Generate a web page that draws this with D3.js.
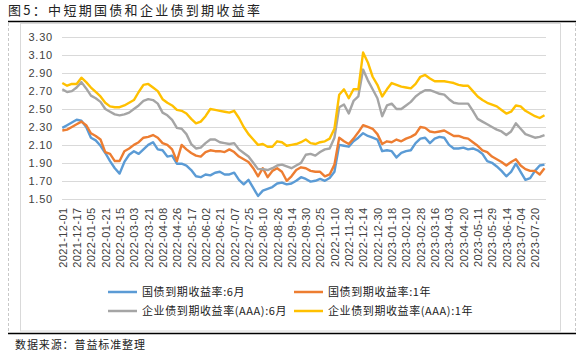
<!DOCTYPE html>
<html><head><meta charset="utf-8">
<script src="https://cdn.jsdelivr.net/npm/d3@7/dist/d3.min.js"></script>
<style>body{margin:0;background:#fff;}svg{display:block;}</style>
</head><body>
<svg id="c" width="583" height="354"></svg>
<script>
const title = "图5：中短期国债和企业债到期收益率";
const source = "数据来源：普益标准整理";
const tickLabels = ["2021-12-01","2021-12-17","2022-01-05","2022-01-21","2022-02-15","2022-03-03","2022-03-21","2022-04-08","2022-04-26","2022-05-17","2022-06-02","2022-06-21","2022-07-07","2022-07-25","2022-08-10","2022-08-26","2022-09-14","2022-09-30","2022-10-25","2022-11-10","2022-11-28","2022-12-14","2022-12-30","2023-01-18","2023-02-10","2023-02-28","2023-03-16","2023-04-03","2023-04-20","2023-05-11","2023-05-29","2023-06-14","2023-07-04","2023-07-20"];
const tickStep = 12;      // trading days between labels
const sampleStep = 4;     // trading days between samples
const totalDays = 405;
const yTicks = [1.5,1.7,1.9,2.1,2.3,2.5,2.7,2.9,3.1,3.3];
const seriesNames = ["国债到期收益率:6月","国债到期收益率:1年","企业债到期收益率(AAA):6月","企业债到期收益率(AAA):1年"];
const gov6m = [2.29,2.32,2.35,2.38,2.37,2.30,2.18,2.15,2.09,2.01,1.92,1.84,1.78,1.91,1.99,2.03,2.00,2.05,2.10,2.13,2.05,2.04,1.97,1.98,1.89,1.89,
1.87,1.82,1.75,1.74,1.77,1.76,1.79,1.80,1.77,1.77,1.79,1.71,1.66,1.71,1.62,1.53,1.59,1.61,1.63,1.67,1.68,1.66,1.67,1.70,1.74,
1.72,1.69,1.70,1.72,1.70,1.73,1.80,2.10,2.09,2.08,2.14,2.18,2.23,2.20,2.18,2.16,2.03,2.04,2.03,1.96,2.01,2.03,2.04,2.12,2.17,
2.18,2.12,2.17,2.19,2.18,2.10,2.06,2.06,2.07,2.05,2.06,2.04,2.00,1.92,1.90,1.86,1.81,1.75,1.80,1.89,1.80,1.71,1.73,1.81,1.87,1.88];
const gov1y = [2.26,2.27,2.30,2.33,2.36,2.32,2.23,2.20,2.16,2.02,2.00,1.92,1.92,2.03,2.06,2.10,2.13,2.18,2.19,2.21,2.18,2.12,2.10,2.05,1.92,2.10,
2.05,2.01,1.98,1.97,2.02,2.04,2.03,2.03,2.02,2.05,2.02,1.97,1.94,1.91,1.84,1.75,1.84,1.74,1.81,1.84,1.80,1.70,1.75,1.82,1.85,
1.84,1.81,1.80,1.80,1.75,1.77,1.88,2.18,2.14,2.11,2.17,2.24,2.32,2.30,2.28,2.22,2.11,2.14,2.13,2.16,2.14,2.17,2.19,2.22,2.30,
2.29,2.25,2.24,2.25,2.26,2.23,2.20,2.20,2.18,2.17,2.13,2.09,2.04,2.02,1.97,1.94,1.91,1.87,1.91,1.94,1.87,1.83,1.81,1.81,1.77,1.84];
const corp6m = [2.72,2.69,2.70,2.74,2.80,2.73,2.65,2.62,2.58,2.50,2.47,2.44,2.43,2.44,2.46,2.50,2.54,2.59,2.61,2.60,2.56,2.46,2.43,2.38,2.29,2.28,
2.22,2.11,2.06,2.07,2.12,2.16,2.16,2.13,2.12,2.11,2.12,2.05,2.01,1.97,1.90,1.83,1.83,1.82,1.84,1.87,1.88,1.86,1.84,1.87,1.90,
1.99,2.00,1.98,2.02,2.05,2.06,2.18,2.52,2.55,2.45,2.59,2.64,2.94,2.82,2.72,2.62,2.42,2.54,2.56,2.50,2.50,2.54,2.58,2.64,2.68,
2.71,2.71,2.69,2.67,2.66,2.61,2.57,2.56,2.56,2.56,2.48,2.39,2.36,2.33,2.30,2.27,2.25,2.21,2.25,2.34,2.28,2.22,2.20,2.18,2.19,2.21];
const corp1y = [2.79,2.76,2.78,2.78,2.85,2.80,2.74,2.69,2.64,2.57,2.53,2.52,2.52,2.54,2.57,2.60,2.69,2.77,2.78,2.74,2.70,2.61,2.57,2.54,2.49,2.48,
2.45,2.39,2.34,2.36,2.42,2.50,2.49,2.48,2.47,2.46,2.48,2.40,2.30,2.22,2.16,2.10,2.11,2.08,2.08,2.14,2.13,2.09,2.10,2.11,2.13,
2.16,2.12,2.11,2.13,2.14,2.17,2.28,2.66,2.72,2.62,2.72,2.72,3.13,3.02,2.86,2.77,2.64,2.72,2.79,2.77,2.75,2.74,2.73,2.78,2.86,
2.88,2.84,2.81,2.81,2.81,2.80,2.79,2.77,2.76,2.76,2.70,2.64,2.60,2.57,2.55,2.53,2.49,2.45,2.47,2.54,2.53,2.48,2.45,2.42,2.40,2.43];
const colors = ["#5B9BD5","#ED7D31","#A5A5A5","#FFC000"];
const allSeries = [gov6m, gov1y, corp6m, corp1y];

const svg = d3.select("#c");
const cjk = "'Noto Sans CJK SC', 'Liberation Sans', sans-serif";
const num = "'Liberation Sans', Arial, sans-serif";

// frame decorations
svg.append("line").attr("x1",8).attr("x2",576).attr("y1",21.5).attr("y2",21.5).attr("stroke","#000").attr("stroke-width",1.5);
svg.append("line").attr("x1",8).attr("x2",576).attr("y1",333.5).attr("y2",333.5).attr("stroke","#000").attr("stroke-width",1.5);
[8.5,575.5].forEach(x=>svg.append("line").attr("x1",x).attr("x2",x).attr("y1",23).attr("y2",333).attr("stroke","#c8c8c8").attr("stroke-dasharray","3,2"));
svg.append("rect").attr("x",20.5).attr("y",23.5).attr("width",540).attr("height",307.5).attr("fill","none").attr("stroke","#d9d9d9");

svg.append("text").attr("x",8).attr("y",15).attr("font-family",cjk).attr("font-size",13).attr("fill","#222").attr("letter-spacing",2.3).text(title);
svg.append("text").attr("x",15).attr("y",349).attr("font-family",cjk).attr("font-size",11).attr("fill","#222").attr("letter-spacing",0.9).text(source);

const x = d3.scaleLinear().domain([0,totalDays]).range([62.3,545.7]);
const y = d3.scaleLinear().domain([1.5,3.3]).range([198.7,37.3]);

// gridlines
svg.append("g").selectAll("line").data(yTicks).join("line")
  .attr("x1",62).attr("x2",546).attr("y1",d=>Math.round(y(d))+0.5).attr("y2",d=>Math.round(y(d))+0.5)
  .attr("stroke","#d9d9d9").attr("stroke-width",1);

// y axis labels
const yAxis = d3.axisLeft(y).tickValues(yTicks).tickFormat(d3.format(".2f")).tickSize(0).tickPadding(0);
const gy = svg.append("g").attr("transform","translate(53,0)").call(yAxis);
gy.select(".domain").remove();
gy.selectAll("text").attr("font-family",num).attr("font-size",11).attr("fill","#404040").attr("letter-spacing",0.8);

// x axis labels
const tickVals = tickLabels.map((d,i)=>i*tickStep);
const xAxis = d3.axisBottom(x).tickValues(tickVals).tickFormat((d,i)=>tickLabels[i]).tickSize(0).tickPadding(0);
const gx = svg.append("g").attr("transform","translate(0,"+(Math.round(y(1.5))+0.5)+")").call(xAxis);
gx.select(".domain").remove();
gx.selectAll("text").attr("font-family",num).attr("font-size",11).attr("fill","#404040").attr("letter-spacing",0.4)
  .attr("text-anchor","end").attr("dy","0.35em").attr("transform","translate(0,8) rotate(-90)").attr("x",0).attr("y",0);

// lines
const line = d3.line().x((d,i)=>x(i*sampleStep)).y(d=>y(d)).curve(d3.curveLinear);
allSeries.forEach((s,k)=>{
  svg.append("path").datum(s).attr("d",line).attr("fill","none").attr("stroke",colors[k]).attr("stroke-width",2.4).attr("stroke-linejoin","round");
});

// legend
const legPos = [[108,292],[294,292],[108,311],[294,311]];
seriesNames.forEach((n,k)=>{
  const [lx,ly] = legPos[k];
  svg.append("line").attr("x1",lx).attr("x2",lx+29).attr("y1",ly).attr("y2",ly).attr("stroke",colors[k]).attr("stroke-width",2.5);
  svg.append("text").attr("x",lx+34).attr("y",ly+4).attr("font-family",cjk).attr("font-size",11).attr("fill","#222").attr("letter-spacing",0.6).text(n);
});
</script>
</body></html>
